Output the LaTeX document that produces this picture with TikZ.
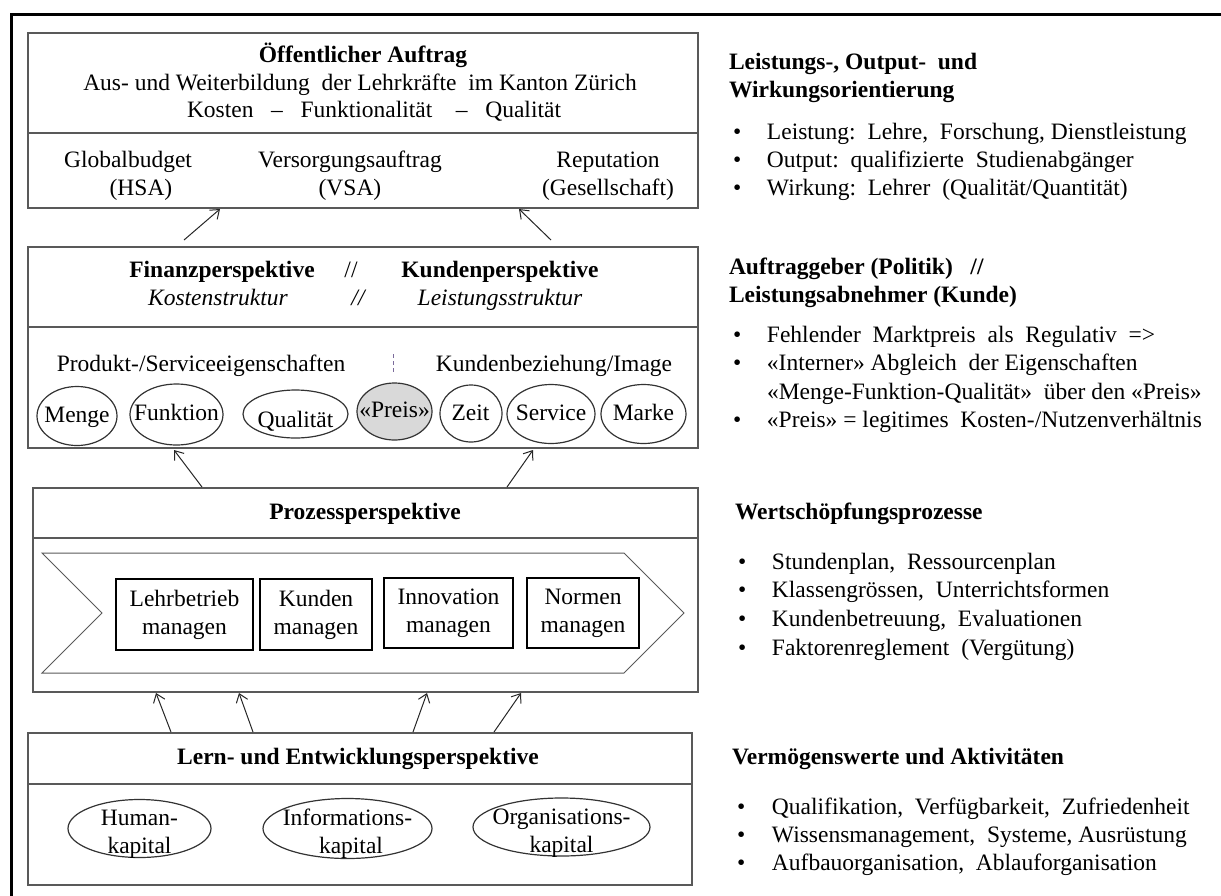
\documentclass[tikz,border=0pt]{standalone}
\usepackage{fontspec}
\setmainfont{Liberation Serif}
\usetikzlibrary{arrows.meta,shapes.geometric}
\definecolor{boxgray}{HTML}{595959}
\definecolor{preisgray}{HTML}{D9D9D9}
\definecolor{dashviolet}{HTML}{7B6B9B}
\newcommand{\fsz}{\fontsize{23.5}{28}\selectfont}
\begin{document}
\begin{tikzpicture}[x=1pt,y=-1pt,
  every node/.style={inner sep=0pt, outer sep=0pt, font=\fsz},
  panel/.style={draw=boxgray, line width=1.6pt, rectangle, anchor=north west},
  divline/.style={draw=boxgray, line width=1.6pt},
  txt/.style={anchor=base},
  btxt/.style={anchor=base, font=\fsz\bfseries},
  itxt/.style={anchor=base, font=\fsz\itshape},
  elli/.style={draw=black!80, line width=1.2pt, ellipse},
  pbox/.style={draw=black, line width=1.2pt, rectangle, align=center},
  chev/.style={draw=boxgray, line width=1pt},
  dashline/.style={draw=dashviolet, line width=1pt, dash pattern=on 4pt off 3pt},
  arr/.style={draw=black!85, line width=1pt, -{Straight Barb[length=8pt,width=12pt]}},
  rhead/.style={anchor=base west, font=\fsz\bfseries},
  ritem/.style={anchor=base west},
]
\useasboundingbox (0,0) rectangle (1221,895);

% outer frame
\draw[line width=3.5pt, line join=miter] (11.5,905) -- (11.5,14.5) -- (1230,14.5);

% ---------- panel 1
\node[panel, minimum width=670pt, minimum height=175pt] (p1) at (28,33) {};
\draw[divline] (28,133) -- (698,133);
\node[btxt] (t1a) at (363,62) {Öffentlicher Auftrag};
\node[txt] (t1b) at (360,90) {Aus- und Weiterbildung\ \ der Lehrkräfte\ \ im Kanton Zürich};
\node[txt] (t1c) at (374,117) {Kosten\ \ \ –\ \ \ Funktionalität\ \ \ \ –\ \ \ Qualität};
\node[txt] (gb1) at (128,167) {Globalbudget};
\node[txt] (gb2) at (141,195) {(HSA)};
\node[txt] (vs1) at (350,167) {Versorgungsauftrag};
\node[txt] (vs2) at (350,195) {(VSA)};
\node[txt] (rp1) at (608,167) {Reputation};
\node[txt] (rp2) at (608,195) {(Gesellschaft)};

% ---------- panel 2
\node[panel, minimum width=670pt, minimum height=201pt] (p2) at (28,247) {};
\draw[divline] (28,327) -- (698,327);
\node[btxt] (fin) at (222,277) {Finanzperspektive};
\node[txt] (sl1) at (351,277) {//};
\node[btxt] (kun) at (500,277) {Kundenperspektive};
\node[itxt] (kst) at (218,305) {Kostenstruktur};
\node[itxt] (sl2) at (358,305) {//};
\node[itxt] (lst) at (500,305) {Leistungsstruktur};
\node[txt] (prod) at (201,371) {Produkt-/Serviceeigenschaften};
\node[txt] (kbez) at (554,371) {Kundenbeziehung/Image};
\coordinate (dsa) at (393,354);
\coordinate (dsb) at (393,374);
\draw[dashline] (dsa) -- (dsb);
\node[elli, minimum width=80pt, minimum height=59pt] (menge) at (77,416) {};
\node[txt] (mengeT) at (77,422) {Menge};
\node[elli, minimum width=93pt, minimum height=61pt] (funk) at (176.5,414.5) {};
\node[txt] (funkT) at (176.5,420) {Funktion};
\node[elli, minimum width=105pt, minimum height=48pt] (qual) at (295.5,414) {};
\node[txt] (qualT) at (295.5,427) {Qualität};
\node[elli, fill=preisgray, minimum width=75pt, minimum height=57pt] (preis) at (394.5,411.5) {};
\node[txt] (preisT) at (394.5,417) {«Preis»};
\node[elli, minimum width=62pt, minimum height=57pt] (zeit) at (471,413.5) {};
\node[txt] (zeitT) at (470.5,420) {Zeit};
\node[elli, minimum width=88pt, minimum height=59pt] (serv) at (551,414) {};
\node[txt] (servT) at (551,420) {Service};
\node[elli, minimum width=85pt, minimum height=59pt] (marke) at (643.5,414) {};
\node[txt] (markeT) at (643.5,420) {Marke};

% ---------- panel 3
\node[panel, minimum width=665pt, minimum height=204pt] (p3) at (33,488) {};
\draw[divline] (33,538) -- (698,538);
\node[btxt] (proz) at (365,519) {Prozessperspektive};
\draw[chev] (42,553) -- (624,553) -- (684,613) -- (624,673) -- (42,673) -- (102,613) -- cycle;
\node[pbox, minimum width=137pt, minimum height=71pt] (lehr) at (184.5,614.5) {Lehrbetrieb\\managen};
\node[pbox, minimum width=112pt, minimum height=71pt] (kund) at (316,614.5) {Kunden\\managen};
\node[pbox, minimum width=129pt, minimum height=70pt] (inno) at (448.5,613) {Innovation\\managen};
\node[pbox, minimum width=112pt, minimum height=70pt] (norm) at (583,613) {Normen\\managen};

% ---------- panel 4
\node[panel, minimum width=664pt, minimum height=152pt] (p4) at (28,733) {};
\draw[divline] (28,784) -- (692,784);
\node[btxt] (lern) at (358,764) {Lern- und Entwicklungsperspektive};
\node[elli, minimum width=143pt, minimum height=58pt] (hum) at (139.5,828.5) {};
\node[txt] (humA) at (139.5,825) {Human-};
\node[txt] (humB) at (139.5,853) {kapital};
\node[elli, minimum width=169pt, minimum height=60pt] (info) at (347.5,828.5) {};
\node[txt] (infoA) at (347.5,825) {Informations-};
\node[txt] (infoB) at (351,853) {kapital};
\node[elli, minimum width=177pt, minimum height=58pt] (orga) at (561.5,827) {};
\node[txt] (orgaA) at (561.5,824) {Organisations-};
\node[txt] (orgaB) at (561.5,852) {kapital};

% ---------- arrows
\coordinate (a1s) at (184,240); \coordinate (a1e) at (220,209);
\coordinate (a2s) at (551,240); \coordinate (a2e) at (519,209);
\coordinate (a3s) at (202,487); \coordinate (a3e) at (174,450);
\coordinate (a4s) at (507,487); \coordinate (a4e) at (533,450);
\coordinate (a5s) at (171,732); \coordinate (a5e) at (156,693);
\coordinate (a6s) at (253,732); \coordinate (a6e) at (239,693);
\coordinate (a7s) at (413,732); \coordinate (a7e) at (427,693);
\coordinate (a8s) at (494,732); \coordinate (a8e) at (521,693);
\foreach \i in {1,...,8} \draw[arr] (a\i s) -- (a\i e);

% ---------- right column
\node[rhead] (h1a) at (729,69) {Leistungs-, Output-\ \ und};
\node[rhead] (h1b) at (729,97) {Wirkungsorientierung};
\node[ritem] (b11) at (733,139) {\makebox[34pt][l]{•}Leistung:\ \ Lehre,\ \ Forschung, Dienstleistung};
\node[ritem] (b12) at (733,167) {\makebox[34pt][l]{•}Output:\ \ qualifizierte\ \ Studienabgänger};
\node[ritem] (b13) at (733,195) {\makebox[34pt][l]{•}Wirkung:\ \ Lehrer\ \ (Qualität/Quantität)};

\node[rhead] (h2a) at (729,274) {Auftraggeber (Politik)\ \ \ //};
\node[rhead] (h2b) at (729,302) {Leistungsabnehmer (Kunde)};
\node[ritem] (b21) at (733,342) {\makebox[34pt][l]{•}Fehlender\ \ Marktpreis\ \ als\ \ Regulativ\ \ =>};
\node[ritem] (b22) at (733,370) {\makebox[34pt][l]{•}«Interner» Abgleich\ \ der Eigenschaften};
\node[ritem] (b22b) at (767,399) {«Menge-Funktion-Qualität»\ \ über den «Preis»};
\node[ritem] (b23) at (733,427) {\makebox[34pt][l]{•}«Preis» = legitimes\ \ Kosten-/Nutzenverhältnis};

\node[rhead] (h3) at (735,519) {Wertschöpfungsprozesse};
\node[ritem] (b31) at (738,569) {\makebox[34pt][l]{•}Stundenplan,\ \ Ressourcenplan};
\node[ritem] (b32) at (738,597) {\makebox[34pt][l]{•}Klassengrössen,\ \ Unterrichtsformen};
\node[ritem] (b33) at (738,626) {\makebox[34pt][l]{•}Kundenbetreuung,\ \ Evaluationen};
\node[ritem] (b34) at (738,655) {\makebox[34pt][l]{•}Faktorenreglement\ \ (Vergütung)};

\node[rhead] (h4) at (732,764) {Vermögenswerte und Aktivitäten};
\node[ritem] (b41) at (737,814) {\makebox[35pt][l]{•}Qualifikation,\ \ Verfügbarkeit,\ \ Zufriedenheit};
\node[ritem] (b42) at (737,842) {\makebox[35pt][l]{•}Wissensmanagement,\ \ Systeme, Ausrüstung};
\node[ritem] (b43) at (737,870) {\makebox[35pt][l]{•}Aufbauorganisation,\ \ Ablauforganisation};
\end{tikzpicture}
\end{document}
